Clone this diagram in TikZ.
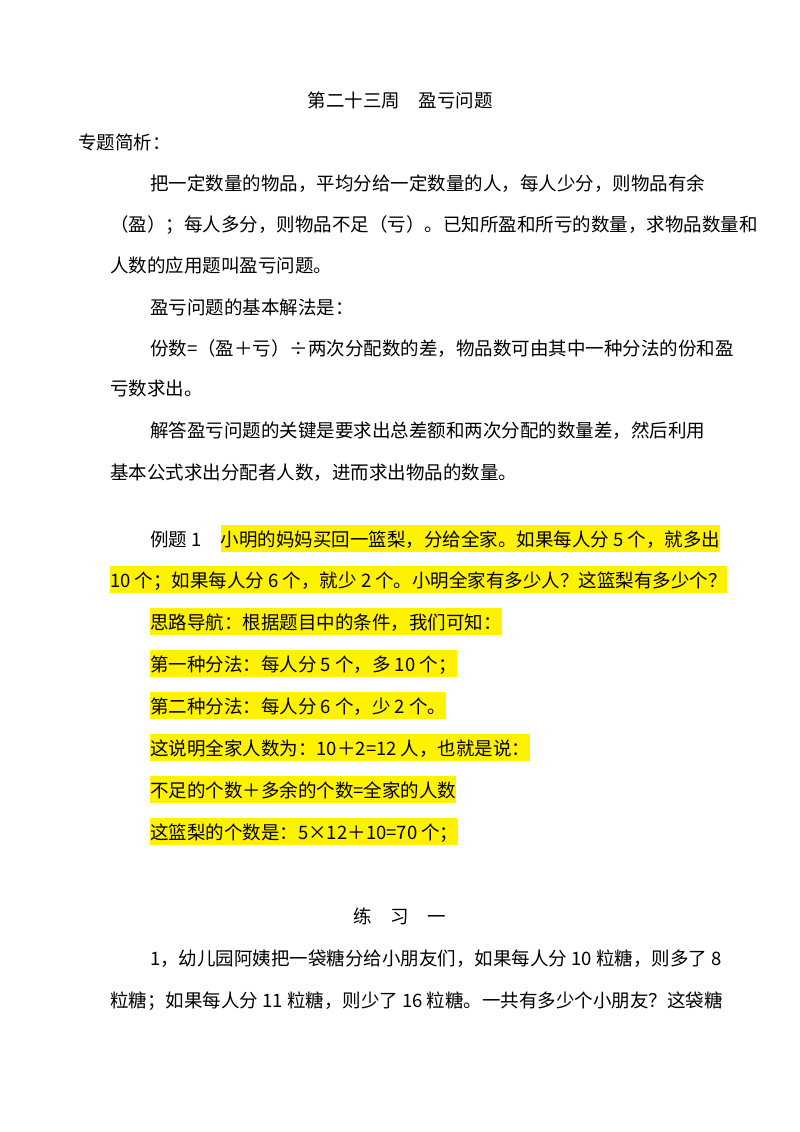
\documentclass[tikz,border=0pt]{standalone}
\usepackage{fontspec}
\setmainfont{Noto Sans CJK SC}
\begin{document}
\begin{tikzpicture}[x=1pt,y=-1pt,
  t/.style={anchor=base west,inner xsep=0pt,inner ysep=0pt,font=\fontsize{18.5}{22}\selectfont},
  h/.style={t,fill=yellow,inner ysep=5pt,text depth=1pt},
  c/.style={t,anchor=base}]
\useasboundingbox (0,0) rectangle (800,1132);
\node[c] (title) at (400,107) {第二十三周\quad 盈亏问题};
\node[t] (s1) at (78,149) {专题简析：};
\node[t] (p1) at (150,190) {把一定数量的物品，平均分给一定数量的人，每人少分，则物品有余};
\node[t] (p2) at (110,231) {（盈）；每人多分，则物品不足（亏）。已知所盈和所亏的数量，求物品数量和};
\node[t] (p3) at (110,272) {人数的应用题叫盈亏问题。};
\node[t] (p4) at (150,314) {盈亏问题的基本解法是：};
\node[t] (p5) at (150,355) {份数=（盈＋亏）÷两次分配数的差，物品数可由其中一种分法的份和盈};
\node[t] (p6) at (110,395) {亏数求出。};
\node[t] (p7) at (150,437) {解答盈亏问题的关键是要求出总差额和两次分配的数量差，然后利用};
\node[t] (p8) at (110,479) {基本公式求出分配者人数，进而求出物品的数量。};
\node[t] (e1a) at (150,546) {例题 1\quad\ };
\node[h] (e1b) at (e1a.base east) {小明的妈妈买回一篮梨，分给全家。如果每人分 5 个，就多出};
\node[h] (e2) at (110,587) {10 个；如果每人分 6 个，就少 2 个。小明全家有多少人？这篮梨有多少个？};
\node[h] (e3) at (150,629) {思路导航：根据题目中的条件，我们可知：};
\node[h] (e4) at (150,671) {第一种分法：每人分 5 个，多 10 个；};
\node[h] (e5) at (150,713) {第二种分法：每人分 6 个，少 2 个。};
\node[h] (e6) at (150,755) {这说明全家人数为：10＋2=12 人，也就是说：};
\node[h] (e7) at (150,797) {不足的个数＋多余的个数=全家的人数};
\node[h] (e8) at (150,839) {这篮梨的个数是：5×12＋10=70 个；};
\node[c] (lx) at (400,923) {练\quad 习\quad 一};
\node[t] (q1) at (150,965) {1，幼儿园阿姨把一袋糖分给小朋友们，如果每人分 10 粒糖，则多了 8};
\node[t] (q2) at (110,1007) {粒糖；如果每人分 11 粒糖，则少了 16 粒糖。一共有多少个小朋友？这袋糖};
\end{tikzpicture}
\end{document}
